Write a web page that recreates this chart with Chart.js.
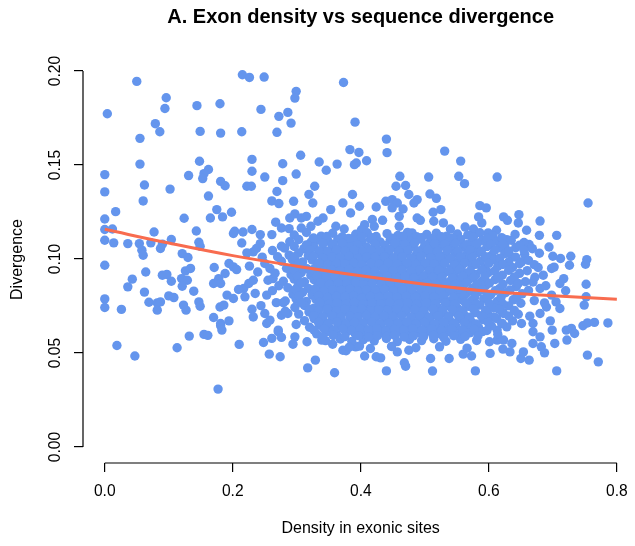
<!DOCTYPE html>
<html>
<head>
<meta charset="utf-8">
<script src="https://cdn.jsdelivr.net/npm/chart.js@4/dist/chart.umd.min.js"></script>
<style>
  html, body { margin: 0; padding: 0; overflow: hidden; background: #fff; }
  canvas { display: block; }
</style>
</head>
<body>
<canvas id="chart" width="643" height="546"></canvas>
<script>
// axis ticks
const xTicks = [0, 0.2, 0.4, 0.6, 0.8];
const yTicks = [0, 0.05, 0.1, 0.15, 0.2];

// smoothed fit
const trendDensity = [0, 0.1, 0.2, 0.3, 0.4, 0.5, 0.6, 0.7, 0.8];
const trendDivergence = [0.1158, 0.1085, 0.1018, 0.0962, 0.0911, 0.0866, 0.0828, 0.0805, 0.0786];

// scattered genes outside the dense cloud: [density, divergence]
const outerPoints = [
  [0.050,0.1945],[0.004,0.1773],[0.096,0.1858],[0.094,0.1801],[0.144,0.1816],[0.180,0.1826],[0.079,0.1720],[0.086,0.1677],[0.055,0.1642],[0.149,0.1679],
  [0.055,0.1505],[0.000,0.1449],[0.148,0.1520],[0.162,0.1476],[0.155,0.1454],[0.153,0.1428],[0.131,0.1444],[0.062,0.1394],[0.102,0.1372],[0.000,0.1357],
  [0.060,0.1309],[0.162,0.1335],[0.175,0.1263],[0.017,0.1252],[0.000,0.1213],[0.124,0.1217],[0.165,0.1218],[0.000,0.1157],[0.012,0.1160],[0.077,0.1144],
  [0.143,0.1149],[0.181,0.1413],[0.181,0.1670],[0.000,0.1100],[0.014,0.1086],[0.036,0.1082],[0.054,0.1082],[0.058,0.1047],[0.060,0.1020],[0.072,0.1086],
  [0.087,0.1056],[0.090,0.1079],[0.104,0.1104],[0.147,0.1089],[0.149,0.1068],[0.121,0.1029],[0.130,0.1008],[0.000,0.0967],[0.064,0.0931],[0.043,0.0893],
  [0.036,0.0852],[0.090,0.0914],[0.097,0.0918],[0.104,0.0882],[0.120,0.0896],[0.126,0.0937],[0.134,0.0950],[0.129,0.0887],[0.121,0.0855],[0.139,0.0829],
  [0.062,0.0824],[0.171,0.0955],[0.170,0.0870],[0.178,0.0896],[0.000,0.0788],[0.000,0.0742],[0.026,0.0732],[0.069,0.0770],[0.082,0.0767],[0.082,0.0728],
  [0.087,0.0772],[0.100,0.0804],[0.108,0.0795],[0.123,0.0755],[0.127,0.0728],[0.147,0.0772],[0.149,0.0749],[0.170,0.0689],[0.180,0.0745],[0.019,0.0540],
  [0.047,0.0484],[0.113,0.0528],[0.132,0.0590],[0.155,0.0599],[0.161,0.0594],[0.177,0.0308],[0.181,0.0657],
  [0.215,0.1980],[0.226,0.1966],[0.249,0.1968],[0.373,0.1939],[0.299,0.1892],[0.297,0.1856],[0.244,0.1796],[0.272,0.1759],[0.286,0.1780],[0.291,0.1723],
  [0.214,0.1677],[0.269,0.1674],[0.391,0.1728],[0.306,0.1552],[0.230,0.1530],[0.278,0.1507],[0.335,0.1516],[0.346,0.1472],[0.363,0.1505],[0.383,0.1582],
  [0.390,0.1502],[0.230,0.1467],[0.250,0.1436],[0.299,0.1452],[0.278,0.1417],[0.188,0.1390],[0.222,0.1387],[0.229,0.1387],[0.328,0.1387],[0.269,0.1359],
  [0.319,0.1344],[0.261,0.1309],[0.272,0.1295],[0.295,0.1307],[0.325,0.1298],[0.372,0.1298],[0.387,0.1343],[0.353,0.1263],[0.198,0.1249],[0.184,0.1224],
  [0.297,0.1240],[0.289,0.1218],[0.307,0.1218],[0.315,0.1227],[0.267,0.1196],[0.276,0.1165],[0.288,0.1162],[0.333,0.1201],[0.341,0.1218],[0.384,0.1245],
  [0.203,0.1148],[0.216,0.1144],[0.230,0.1157],[0.243,0.1130],[0.261,0.1130],[0.307,0.1165],[0.322,0.1174],[0.361,0.1174],[0.374,0.1160],
  [0.210,0.0546],[0.257,0.0494],[0.274,0.0480],[0.317,0.0421],[0.329,0.0462],[0.359,0.0395],[0.248,0.0556],[0.261,0.0578],[0.271,0.0613],[0.276,0.0583],
  [0.297,0.0586],[0.294,0.0547],[0.316,0.0560],[0.339,0.0569],[0.356,0.0547],[0.372,0.0515],[0.377,0.0512],[0.392,0.0533],[0.299,0.0652],[0.181,0.0645],
  [0.183,0.0622],[0.194,0.0671],[0.186,0.0755],[0.201,0.0790],[0.191,0.0808],[0.230,0.0733],[0.232,0.0692],[0.250,0.0710],[0.253,0.0657],[0.258,0.0675],
  [0.276,0.0701],[0.286,0.0710],[0.271,0.0622],[0.194,0.0976],[0.201,0.0958],[0.206,0.0944],[0.188,0.0923],[0.181,0.0870],[0.217,0.0843],[0.225,0.0870],
  [0.232,0.0887],[0.209,0.0838],[0.235,0.0817],[0.219,0.0799],[0.201,0.1136],[0.237,0.1056],[0.243,0.1082],[0.232,0.1038],[0.250,0.0976],[0.258,0.0950],
  [0.255,0.0887],[0.263,0.0896],[0.253,0.0808],
  [0.262,0.1045],[0.270,0.1012],[0.276,0.1068],[0.266,0.0925],[0.272,0.0858],[0.262,0.0832],[0.268,0.0768],[0.244,0.0752],[0.239,0.0931],[0.246,0.1010],
  [0.222,0.1033],[0.214,0.1085],[0.226,0.0962],[0.279,0.0768],[0.282,0.0722],
  [0.440,0.1638],[0.441,0.1566],[0.397,0.1567],[0.409,0.1523],[0.393,0.1511],[0.531,0.1574],[0.556,0.1521],[0.553,0.1440],[0.562,0.1401],[0.506,0.1436],
  [0.461,0.1440],[0.455,0.1387],[0.470,0.1391],[0.475,0.1343],[0.488,0.1316],[0.483,0.1298],[0.508,0.1346],[0.518,0.1323],[0.513,0.1249],[0.525,0.1263],
  [0.586,0.1284],[0.596,0.1272],[0.584,0.1224],[0.439,0.1307],[0.449,0.1316],[0.457,0.1298],[0.449,0.1272],[0.466,0.1266],[0.424,0.1277],[0.398,0.1281],
  [0.460,0.1227],[0.493,0.1206],[0.488,0.1218],[0.514,0.1201],[0.529,0.1192],[0.418,0.1210],[0.434,0.1206],[0.406,0.1183],[0.401,0.1156],[0.421,0.1174],
  [0.460,0.1174],[0.480,0.1139],[0.540,0.1160],[0.563,0.1170],[0.576,0.1160],[0.589,0.1192],[0.599,0.1139],[0.613,0.1436],
  [0.755,0.1298],[0.623,0.1224],[0.629,0.1206],[0.647,0.1236],[0.646,0.1192],[0.680,0.1202],[0.612,0.1153],[0.659,0.1153],[0.679,0.1126],[0.706,0.1126],
  [0.663,0.1077],[0.694,0.1064],[0.625,0.1077],[0.656,0.1025],[0.700,0.1015],[0.712,0.1003],[0.728,0.1015],[0.726,0.0967],[0.753,0.0997],[0.751,0.0972],
  [0.677,0.0955],[0.698,0.0950],[0.685,0.0914],[0.717,0.0896],[0.711,0.0870],[0.752,0.0866],[0.720,0.0831],[0.680,0.0843],[0.669,0.0878],[0.651,0.0985],
  [0.636,0.1011],[0.752,0.0799],[0.749,0.0755],[0.705,0.0772],[0.711,0.0737],[0.690,0.0745],[0.680,0.0710],[0.698,0.0808],[0.687,0.0767],[0.696,0.0671],
  [0.699,0.0622],[0.721,0.0622],[0.729,0.0631],[0.734,0.0604],[0.722,0.0569],[0.747,0.0645],[0.754,0.0660],[0.765,0.0663],[0.786,0.0660],[0.754,0.0489],
  [0.771,0.0453],[0.706,0.0405],[0.663,0.0462],[0.650,0.0471],[0.654,0.0506],[0.633,0.0506],[0.622,0.0521],[0.636,0.0551],[0.623,0.0569],[0.613,0.0569],
  [0.669,0.0551],[0.682,0.0533],[0.687,0.0501],[0.680,0.0586],[0.703,0.0551],[0.669,0.0613],[0.669,0.0657],[0.651,0.0657],[0.620,0.0657],[0.613,0.0622],
  [0.623,0.0710],[0.664,0.0696],[0.635,0.1100],
  [0.440,0.0405],[0.470,0.0430],[0.468,0.0448],[0.512,0.0404],[0.579,0.0405],[0.509,0.0471],[0.538,0.0471],[0.573,0.0484],[0.406,0.0484],[0.424,0.0480],
  [0.431,0.0474],[0.398,0.0537],[0.457,0.0506],[0.475,0.0515],[0.560,0.0494],[0.602,0.0498]
];

// the dense cloud in the middle: [density, divergence]
const corePoints = [
  [0.296,0.1128],[0.315,0.1141],[0.338,0.1122],[0.356,0.1137],[0.371,0.1118],[0.392,0.1132],[0.410,0.1140],[0.424,0.1120],[0.441,0.1135],[0.458,0.1125],
  [0.473,0.1142],[0.487,0.1119],[0.503,0.1131],[0.518,0.1138],[0.534,0.1121],[0.551,0.1133],[0.567,0.1127],[0.586,0.1140],[0.606,0.1124],[0.641,0.1131],
  [0.289,0.1092],[0.303,0.1104],[0.322,0.1089],[0.333,0.1101],[0.349,0.1095],[0.364,0.1106],[0.378,0.1088],[0.389,0.1100],[0.402,0.1093],[0.415,0.1105],
  [0.430,0.1091],[0.446,0.1102],[0.461,0.1087],[0.476,0.1098],[0.492,0.1106],[0.508,0.1090],[0.521,0.1101],[0.539,0.1094],[0.556,0.1104],[0.573,0.1089],
  [0.590,0.1099],[0.612,0.1093],[0.628,0.1103],[0.655,0.1088],
  [0.281,0.1058],[0.296,0.1067],[0.311,0.1055],[0.327,0.1064],[0.341,0.1052],[0.355,0.1069],[0.369,0.1057],[0.383,0.1066],[0.396,0.1051],[0.409,0.1063],
  [0.423,0.1070],[0.437,0.1054],[0.452,0.1065],[0.466,0.1058],[0.481,0.1068],[0.497,0.1053],[0.513,0.1062],[0.527,0.1069],[0.543,0.1056],[0.560,0.1064],
  [0.577,0.1052],[0.597,0.1066],[0.618,0.1059],[0.642,0.1061],[0.668,0.1055],
  [0.288,0.1021],[0.303,0.1033],[0.318,0.1018],[0.334,0.1030],[0.348,0.1024],[0.361,0.1035],[0.375,0.1019],[0.389,0.1028],[0.401,0.1036],[0.414,0.1022],
  [0.428,0.1031],[0.444,0.1017],[0.458,0.1029],[0.471,0.1034],[0.486,0.1020],[0.500,0.1032],[0.516,0.1025],[0.531,0.1018],[0.548,0.1030],[0.565,0.1023],
  [0.583,0.1034],[0.604,0.1019],[0.625,0.1028],[0.679,0.1031],
  [0.276,0.0988],[0.293,0.0997],[0.309,0.0984],[0.324,0.0995],[0.339,0.0989],[0.352,0.1000],[0.366,0.0983],[0.380,0.0994],[0.393,0.0987],[0.406,0.0998],
  [0.420,0.0985],[0.433,0.0996],[0.448,0.0990],[0.462,0.1001],[0.477,0.0986],[0.491,0.0995],[0.505,0.0982],[0.520,0.0993],[0.536,0.0999],[0.552,0.0986],
  [0.568,0.0996],[0.587,0.0989],[0.608,0.0997],[0.631,0.0984],[0.662,0.0993],
  [0.284,0.0951],[0.300,0.0962],[0.316,0.0948],[0.331,0.0960],[0.345,0.0954],[0.358,0.0965],[0.372,0.0949],[0.386,0.0958],[0.399,0.0966],[0.412,0.0952],
  [0.426,0.0961],[0.440,0.0947],[0.454,0.0959],[0.468,0.0964],[0.482,0.0950],[0.497,0.0960],[0.511,0.0953],[0.526,0.0963],[0.541,0.0948],[0.557,0.0958],
  [0.574,0.0966],[0.593,0.0951],[0.614,0.0961],[0.637,0.0955],[0.702,0.0957],
  [0.291,0.0917],[0.307,0.0928],[0.322,0.0914],[0.337,0.0925],[0.351,0.0919],[0.364,0.0930],[0.378,0.0913],[0.391,0.0923],[0.404,0.0916],[0.418,0.0927],
  [0.431,0.0912],[0.445,0.0924],[0.459,0.0931],[0.473,0.0918],[0.487,0.0926],[0.502,0.0913],[0.516,0.0922],[0.531,0.0929],[0.546,0.0915],[0.562,0.0925],
  [0.580,0.0918],[0.599,0.0928],[0.621,0.0914],[0.648,0.0924],
  [0.279,0.0882],[0.296,0.0893],[0.312,0.0879],[0.327,0.0890],[0.342,0.0884],[0.356,0.0895],[0.369,0.0878],[0.383,0.0888],[0.396,0.0896],[0.409,0.0881],
  [0.423,0.0891],[0.437,0.0877],[0.451,0.0889],[0.465,0.0894],[0.479,0.0880],[0.493,0.0890],[0.508,0.0883],[0.523,0.0893],[0.538,0.0878],[0.554,0.0888],
  [0.571,0.0895],[0.589,0.0881],[0.610,0.0891],[0.634,0.0886],[0.657,0.0879],
  [0.286,0.0847],[0.302,0.0858],[0.318,0.0844],[0.333,0.0855],[0.347,0.0849],[0.361,0.0860],[0.374,0.0843],[0.388,0.0853],[0.401,0.0846],[0.414,0.0857],
  [0.428,0.0842],[0.442,0.0854],[0.456,0.0861],[0.470,0.0848],[0.484,0.0856],[0.498,0.0843],[0.513,0.0852],[0.528,0.0859],[0.543,0.0845],[0.559,0.0855],
  [0.576,0.0848],[0.595,0.0858],[0.617,0.0844],[0.643,0.0853],[0.689,0.0858],
  [0.294,0.0812],[0.309,0.0823],[0.324,0.0809],[0.339,0.0820],[0.353,0.0814],[0.367,0.0825],[0.380,0.0808],[0.393,0.0818],[0.406,0.0826],[0.419,0.0811],
  [0.433,0.0821],[0.447,0.0807],[0.461,0.0819],[0.475,0.0824],[0.489,0.0810],[0.503,0.0820],[0.518,0.0813],[0.533,0.0823],[0.549,0.0808],[0.565,0.0818],
  [0.583,0.0825],[0.603,0.0811],[0.626,0.0821],[0.652,0.0815],
  [0.282,0.0777],[0.299,0.0788],[0.315,0.0774],[0.330,0.0785],[0.344,0.0779],[0.358,0.0790],[0.371,0.0773],[0.385,0.0783],[0.398,0.0776],[0.411,0.0787],
  [0.425,0.0772],[0.439,0.0784],[0.453,0.0791],[0.467,0.0778],[0.481,0.0786],[0.495,0.0773],[0.510,0.0782],[0.525,0.0789],[0.540,0.0775],[0.556,0.0785],
  [0.573,0.0778],[0.592,0.0788],[0.613,0.0774],[0.638,0.0783],[0.671,0.0779],
  [0.297,0.0742],[0.312,0.0753],[0.327,0.0739],[0.341,0.0750],[0.355,0.0744],[0.369,0.0755],[0.382,0.0738],[0.395,0.0748],[0.408,0.0756],[0.421,0.0741],
  [0.435,0.0751],[0.449,0.0737],[0.463,0.0749],[0.477,0.0754],[0.491,0.0740],[0.505,0.0750],[0.520,0.0743],[0.535,0.0753],[0.551,0.0738],[0.568,0.0748],
  [0.586,0.0755],[0.607,0.0741],[0.631,0.0751],
  [0.303,0.0707],[0.319,0.0718],[0.334,0.0704],[0.348,0.0715],[0.362,0.0709],[0.376,0.0720],[0.389,0.0703],[0.402,0.0713],[0.415,0.0706],[0.429,0.0717],
  [0.443,0.0702],[0.457,0.0714],[0.471,0.0721],[0.485,0.0708],[0.499,0.0716],[0.514,0.0703],[0.529,0.0712],[0.545,0.0719],[0.561,0.0705],[0.579,0.0715],
  [0.598,0.0708],[0.621,0.0718],[0.646,0.0706],
  [0.312,0.0672],[0.327,0.0683],[0.342,0.0669],[0.356,0.0680],[0.370,0.0674],[0.384,0.0685],[0.397,0.0668],[0.410,0.0678],[0.423,0.0686],[0.437,0.0671],
  [0.451,0.0681],[0.465,0.0667],[0.479,0.0679],[0.493,0.0684],[0.508,0.0670],[0.523,0.0680],[0.539,0.0673],[0.555,0.0683],[0.572,0.0668],[0.591,0.0678],
  [0.612,0.0684],[0.637,0.0671],
  [0.320,0.0637],[0.336,0.0648],[0.351,0.0634],[0.365,0.0645],[0.379,0.0639],[0.392,0.0650],[0.405,0.0633],[0.419,0.0643],[0.432,0.0636],[0.446,0.0647],
  [0.460,0.0632],[0.474,0.0644],[0.488,0.0651],[0.503,0.0638],[0.518,0.0646],[0.533,0.0633],[0.549,0.0642],[0.566,0.0649],[0.584,0.0635],[0.604,0.0645],
  [0.628,0.0639],
  [0.331,0.0602],[0.347,0.0613],[0.362,0.0599],[0.377,0.0610],[0.391,0.0604],[0.405,0.0615],[0.418,0.0598],[0.432,0.0608],[0.446,0.0601],[0.460,0.0612],
  [0.474,0.0597],[0.489,0.0609],[0.504,0.0616],[0.519,0.0603],[0.535,0.0611],[0.552,0.0598],[0.570,0.0607],[0.590,0.0614],[0.614,0.0600],
  [0.345,0.0566],[0.368,0.0575],[0.386,0.0562],[0.404,0.0571],[0.421,0.0565],[0.440,0.0577],[0.457,0.0561],[0.476,0.0572],[0.495,0.0566],[0.514,0.0576],
  [0.533,0.0563],[0.556,0.0573],[0.581,0.0567],[0.601,0.0560],
  [0.382,0.0531],[0.415,0.0524],[0.448,0.0535],[0.486,0.0528],[0.523,0.0533],[0.566,0.0526]
];

// genes packed in between the rows of the cloud, where it looks solid
const coreFillPoints = [
  [0.326,0.1112],[0.347,0.1120],[0.381,0.1110],[0.401,0.1118],[0.417,0.1113],[0.449,0.1111],[0.466,0.1121],[0.495,0.1114],[0.511,0.1109],[0.526,0.1119],
  [0.543,0.1112],[0.576,0.1117],[0.597,0.1110],[0.620,0.1114],
  [0.315,0.1075],[0.341,0.1083],[0.357,0.1077],[0.371,0.1084],[0.395,0.1076],[0.422,0.1081],[0.438,0.1074],[0.453,0.1083],[0.469,0.1078],
  [0.484,0.1085],[0.500,0.1075],[0.515,0.1081],[0.531,0.1077],[0.548,0.1084],[0.565,0.1076],[0.582,0.1082],[0.603,0.1078],[0.622,0.1080],[0.648,0.1074],
  [0.320,0.1048],[0.335,0.1043],[0.348,0.1040],[0.362,0.1049],[0.376,0.1042],[0.390,0.1047],[0.403,0.1040],[0.416,0.1046],[0.430,0.1043],
  [0.445,0.1049],[0.459,0.1041],[0.474,0.1046],[0.489,0.1043],[0.505,0.1048],[0.520,0.1040],[0.535,0.1045],[0.552,0.1042],[0.570,0.1048],[0.588,0.1041],
  [0.609,0.1046],[0.631,0.1043],[0.655,0.1047],
  [0.297,0.1013],[0.326,0.1015],[0.341,0.1005],[0.355,0.1012],[0.368,0.1007],[0.382,0.1014],[0.396,0.1004],[0.409,0.1011],
  [0.422,0.1008],[0.437,0.1013],[0.451,0.1006],[0.465,0.1012],[0.479,0.1005],[0.494,0.1014],[0.509,0.1007],[0.524,0.1011],[0.540,0.1004],[0.556,0.1013],
  [0.574,0.1008],[0.595,0.1012],[0.617,0.1005],[0.642,0.1010],
  [0.304,0.0978],[0.335,0.0979],[0.349,0.0970],[0.362,0.0977],[0.376,0.0973],[0.389,0.0980],[0.402,0.0969],[0.416,0.0976],
  [0.429,0.0972],[0.443,0.0979],[0.457,0.0971],[0.472,0.0977],[0.486,0.0970],[0.501,0.0978],[0.515,0.0973],[0.531,0.0976],[0.546,0.0970],[0.562,0.0979],
  [0.580,0.0972],[0.600,0.0977],[0.622,0.0971],[0.648,0.0975],[0.671,0.0970],
  [0.295,0.0943],[0.326,0.0944],[0.341,0.0935],[0.355,0.0942],[0.368,0.0938],[0.382,0.0945],[0.395,0.0934],[0.408,0.0941],
  [0.422,0.0937],[0.436,0.0944],[0.450,0.0936],[0.464,0.0942],[0.478,0.0935],[0.492,0.0943],[0.507,0.0938],[0.522,0.0941],[0.538,0.0935],[0.554,0.0944],
  [0.571,0.0937],[0.589,0.0942],[0.609,0.0936],[0.631,0.0940],[0.660,0.0938],
  [0.301,0.0908],[0.332,0.0909],[0.346,0.0900],[0.360,0.0907],[0.373,0.0903],[0.387,0.0910],[0.400,0.0899],[0.413,0.0906],
  [0.427,0.0902],[0.441,0.0909],[0.455,0.0901],[0.469,0.0907],[0.483,0.0900],[0.498,0.0908],[0.512,0.0903],[0.527,0.0906],[0.543,0.0900],[0.559,0.0909],
  [0.576,0.0902],[0.594,0.0907],[0.615,0.0901],[0.640,0.0905],[0.672,0.0903],
  [0.307,0.0873],[0.337,0.0874],[0.351,0.0865],[0.365,0.0872],[0.378,0.0868],[0.392,0.0875],[0.405,0.0864],[0.418,0.0871],
  [0.432,0.0867],[0.446,0.0874],[0.460,0.0866],[0.474,0.0872],[0.488,0.0865],[0.503,0.0873],[0.517,0.0868],[0.533,0.0871],[0.548,0.0865],[0.565,0.0874],
  [0.582,0.0867],[0.601,0.0872],[0.622,0.0866],[0.646,0.0870],
  [0.298,0.0838],[0.328,0.0839],[0.342,0.0830],[0.356,0.0837],[0.369,0.0833],[0.383,0.0840],[0.396,0.0829],[0.409,0.0836],
  [0.423,0.0832],[0.437,0.0839],[0.451,0.0831],[0.465,0.0837],[0.479,0.0830],[0.494,0.0838],[0.508,0.0833],[0.523,0.0836],[0.539,0.0830],[0.555,0.0839],
  [0.572,0.0832],[0.590,0.0837],[0.610,0.0831],[0.633,0.0835],[0.662,0.0833],
  [0.304,0.0803],[0.334,0.0804],[0.348,0.0795],[0.362,0.0802],[0.375,0.0798],[0.389,0.0805],[0.402,0.0794],[0.415,0.0801],
  [0.429,0.0797],[0.443,0.0804],[0.457,0.0796],[0.471,0.0802],[0.485,0.0795],[0.500,0.0803],[0.514,0.0798],[0.530,0.0801],[0.545,0.0795],[0.561,0.0804],
  [0.578,0.0797],[0.597,0.0802],[0.619,0.0796],[0.644,0.0800],
  [0.307,0.0768],[0.336,0.0769],[0.350,0.0760],[0.363,0.0767],[0.377,0.0763],[0.390,0.0770],[0.403,0.0759],[0.417,0.0766],
  [0.431,0.0762],[0.445,0.0769],[0.459,0.0761],[0.473,0.0767],[0.487,0.0760],[0.502,0.0768],[0.516,0.0763],[0.532,0.0766],[0.547,0.0760],[0.563,0.0769],
  [0.580,0.0762],[0.600,0.0767],[0.622,0.0761],[0.650,0.0765],
  [0.320,0.0733],[0.334,0.0727],[0.348,0.0734],[0.362,0.0725],[0.375,0.0732],[0.389,0.0728],[0.402,0.0735],[0.415,0.0724],[0.428,0.0731],
  [0.442,0.0727],[0.456,0.0734],[0.470,0.0726],[0.484,0.0732],[0.498,0.0725],[0.513,0.0733],[0.528,0.0728],[0.543,0.0731],[0.559,0.0725],[0.576,0.0734],
  [0.595,0.0727],[0.616,0.0732],[0.640,0.0726],
  [0.326,0.0698],[0.341,0.0692],[0.355,0.0699],[0.369,0.0690],[0.383,0.0697],[0.396,0.0693],[0.409,0.0700],[0.422,0.0689],[0.436,0.0696],
  [0.450,0.0692],[0.464,0.0699],[0.478,0.0691],[0.492,0.0697],[0.506,0.0690],[0.521,0.0698],[0.537,0.0693],[0.553,0.0696],[0.570,0.0690],[0.588,0.0699],
  [0.608,0.0692],[0.631,0.0697],
  [0.334,0.0663],[0.349,0.0657],[0.363,0.0664],[0.377,0.0655],[0.390,0.0662],[0.404,0.0658],[0.417,0.0665],[0.430,0.0654],[0.444,0.0661],
  [0.458,0.0657],[0.472,0.0664],[0.486,0.0656],[0.500,0.0662],[0.515,0.0655],[0.530,0.0663],[0.546,0.0658],[0.562,0.0661],[0.580,0.0655],[0.599,0.0663],
  [0.621,0.0657],
  [0.327,0.0621],[0.343,0.0628],[0.358,0.0622],[0.372,0.0629],[0.386,0.0620],[0.399,0.0627],[0.412,0.0623],[0.425,0.0630],[0.439,0.0619],[0.453,0.0626],
  [0.467,0.0622],[0.481,0.0629],[0.496,0.0621],[0.511,0.0627],[0.526,0.0620],[0.542,0.0628],[0.559,0.0623],[0.577,0.0626],[0.597,0.0620],
  [0.340,0.0586],[0.357,0.0593],[0.375,0.0587],[0.396,0.0592],[0.412,0.0585],[0.426,0.0592],[0.441,0.0588],[0.453,0.0594],[0.468,0.0585],[0.482,0.0591],
  [0.498,0.0587],[0.513,0.0593],[0.529,0.0586],[0.545,0.0592],[0.563,0.0588],[0.583,0.0591]
];

const FONT = '"Liberation Sans", Arial, Helvetica, sans-serif';
Chart.defaults.font.family = FONT;
Chart.defaults.color = '#000';

const toXY = p => ({ x: p[0], y: p[1] });

// R-style detached axes: line only from first to last tick, y labels rotated
const rAxes = {
  id: 'rAxes',
  afterDraw(chart) {
    const { ctx, scales: { x, y } } = chart;
    ctx.save();
    ctx.strokeStyle = '#000';
    ctx.lineWidth = 1.2;
    ctx.beginPath();
    ctx.moveTo(x.getPixelForValue(xTicks[0]), x.top);
    ctx.lineTo(x.getPixelForValue(xTicks[xTicks.length - 1]), x.top);
    ctx.moveTo(y.right, y.getPixelForValue(yTicks[0]));
    ctx.lineTo(y.right, y.getPixelForValue(yTicks[yTicks.length - 1]));
    ctx.stroke();

    ctx.fillStyle = '#000';
    ctx.font = '15.6px ' + FONT;
    ctx.textAlign = 'center';
    ctx.textBaseline = 'middle';
    y.ticks.forEach(t => {
      ctx.save();
      ctx.translate(56, y.getPixelForValue(t.value));
      ctx.rotate(-Math.PI / 2);
      ctx.fillText(t.value.toFixed(2), 0, 0);
      ctx.restore();
    });
    ctx.restore();
  }
};

new Chart(document.getElementById('chart'), {
  type: 'scatter',
  data: {
    datasets: [
      {
        label: 'fit',
        data: trendDensity.map((d, i) => ({ x: d, y: trendDivergence[i] })),
        showLine: true,
        borderColor: '#F86C4F',
        borderWidth: 3,
        tension: 0.4,
        pointRadius: 0,
        fill: false
      },
      {
        label: 'genes',
        data: outerPoints.concat(corePoints, coreFillPoints).map(toXY),
        pointRadius: 4.7,
        pointBackgroundColor: '#6495ED',
        pointBorderWidth: 0,
        pointHoverRadius: 4.7
      }
    ]
  },
  options: {
    responsive: false,
    devicePixelRatio: 1,
    animation: false,
    layout: { padding: 0 },
    plugins: {
      legend: { display: false },
      tooltip: { enabled: false },
      title: {
        display: true,
        fullSize: false,
        text: 'A. Exon density vs sequence divergence',
        color: '#000',
        font: { size: 20, weight: 'bold' },
        padding: { top: 5, bottom: 27 }
      }
    },
    scales: {
      x: {
        type: 'linear',
        min: -0.034,
        max: 0.8335,
        afterBuildTicks: s => { s.ticks = xTicks.map(v => ({ value: v })); },
        afterFit: s => { s.height = 83; },
        border: { display: false },
        grid: { drawOnChartArea: false, drawTicks: true, tickLength: 9, color: '#000', lineWidth: 1.2 },
        ticks: { callback: v => v.toFixed(1), color: '#000', font: { size: 15.6 }, padding: 10, maxRotation: 0, autoSkip: false },
        title: { display: true, text: 'Density in exonic sites', color: '#000', font: { size: 16 }, padding: { top: 0, bottom: 8 } }
      },
      y: {
        type: 'linear',
        min: -0.0085,
        max: 0.208,
        afterBuildTicks: s => { s.ticks = yTicks.map(v => ({ value: v })); },
        afterFit: s => { s.width = 83; },
        border: { display: false },
        grid: { drawOnChartArea: false, drawTicks: true, tickLength: 9, color: '#000', lineWidth: 1.2 },
        ticks: { display: false },
        title: { display: true, text: 'Divergence', color: '#000', font: { size: 16 }, padding: { top: 8, bottom: 0 } }
      }
    }
  },
  plugins: [rAxes]
});
</script>
</body>
</html>
